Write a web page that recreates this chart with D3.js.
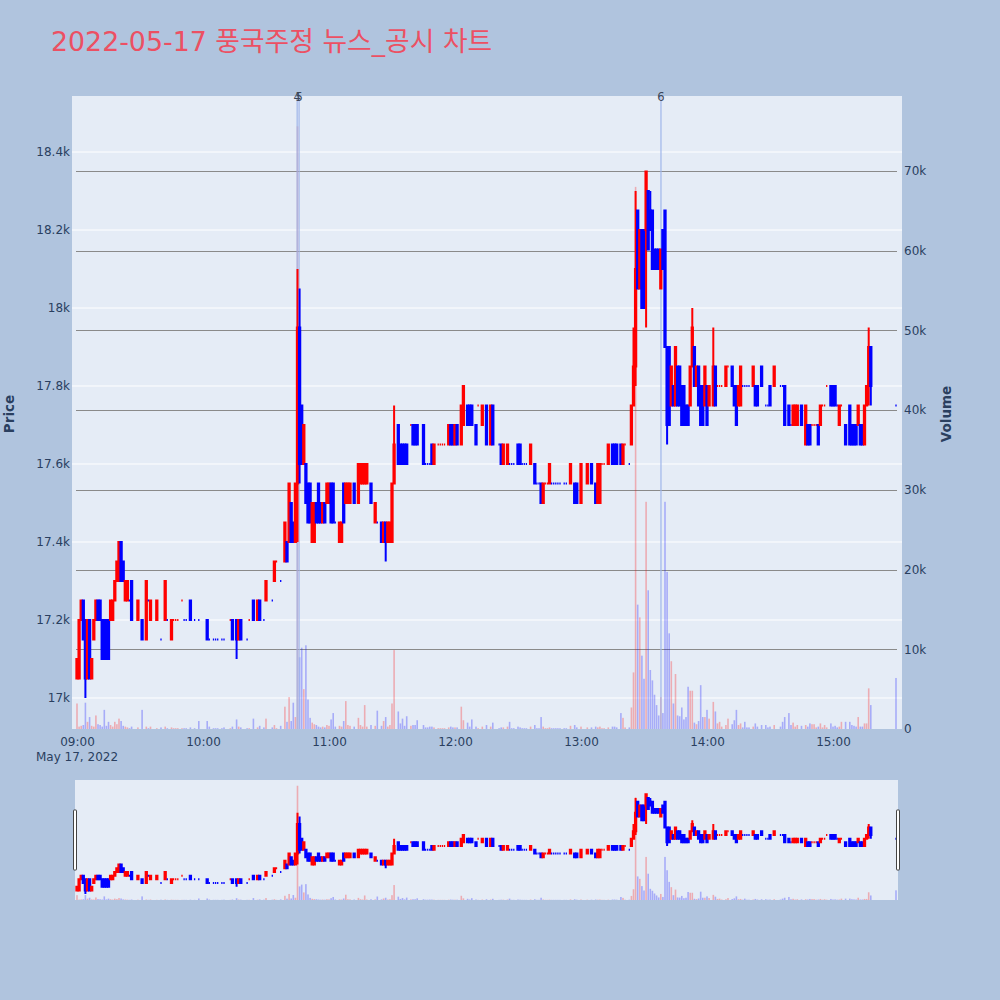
<!DOCTYPE html>
<html><head><meta charset="utf-8">
<script src="https://cdn.jsdelivr.net/npm/d3@7"></script>
<style>
body{margin:0;background:#b0c4de;}
svg{display:block;font-family:"DejaVu Sans","Noto Sans CJK KR",sans-serif;}
</style>
</head><body>
<svg id="c" width="1000" height="1000"></svg>
<script>
// ---------------- DATA (minutes after 09:00) ----------------
const minutes = [
0,1,2,3,4,5,6,7,8,9,10,11,12,13,14,15,16,17,18,19,20,21,22,23,24,25,26,
29,31,33,34,35,38,40,42,43,45,46,47,48,50,51,52,54,56,58,62,63,65,66,67,69,70,73,74,76,77,78,81,82,84,86,87,89,90,93,94,95,97,
99,100,101,102,103,104,105,106,107,108,109,110,111,112,113,114,115,116,117,118,119,120,121,122,123,125,126,127,128,129,130,132,134,135,136,137,138,140,142,143,145,146,147,148,149,150,
151,153,154,155,156,157,159,160,161,162,165,166,167,168,169,170,172,173,174,175,177,178,179,180,181,183,184,186,187,188,190,191,193,195,197,198,201,202,203,205,
206,207,208,210,211,212,213,214,216,218,219,220,221,222,223,224,225,226,227,228,229,230,232,233,235,237,238,240,243,245,247,248,249,250,251,253,255,256,257,259,260,261,263,
264,265,266,267,268,269,270,271,272,273,274,275,276,277,278,279,280,281,282,283,284,285,286,287,288,289,290,291,292,293,294,295,296,297,298,299,300,301,303,304,
305,306,307,309,310,312,313,314,315,316,317,318,319,320,322,323,324,326,328,329,330,332,335,336,337,339,340,341,342,343,345,347,348,349,350,351,352,353,354,355,356,357,359,360,361,362,363,364,366,368,369,370,371,372,373,374,375,376,377,378,390
];
const opens = [
17050,17050,17200,17250,17200,17050,17200,17050,17150,17200,17250,17250,17200,17200,17200,17200,17200,17200,17250,17300,17300,17400,17350,17250,17250,17250,17300,
17200,17200,17150,17250,17200,17200,17150,17200,17200,17150,17200,17200,17200,17250,17200,17200,17250,17200,17200,17200,17150,17150,17150,17150,17150,17150,17200,17200,17200,17150,17200,17150,17200,17250,17200,17250,17200,17250,17250,17300,17350,17300,
17350,17400,17400,17500,17450,17400,17550,17950,17750,17600,17600,17550,17550,17400,17400,17500,17550,17500,17450,17500,17500,17500,17550,17550,17450,17400,17400,17550,17500,17500,17500,17550,17500,17550,17550,17550,17550,17550,17450,17450,17450,17400,17450,17400,17400,17400,
17550,17700,17650,17650,17650,17650,17700,17700,17700,17700,17700,17600,17600,17600,17650,17600,17650,17650,17650,17650,17650,17700,17700,17650,17700,17650,17700,17750,17750,17750,17700,17750,17700,17750,17650,17750,17650,17650,17600,17600,
17600,17600,17600,17650,17650,17600,17600,17600,17600,17600,17550,17550,17550,17500,17550,17550,17550,17550,17550,17550,17550,17550,17550,17550,17550,17550,17550,17500,17550,17600,17550,17500,17500,17600,17600,17600,17650,17650,17650,17650,17600,17650,17600,
17650,17750,17850,18250,18050,18200,18200,18200,18300,18250,18250,18150,18150,18150,18050,18200,18250,17900,17900,17750,17800,17750,17850,17850,17800,17800,17750,17750,17750,17850,17900,17800,17850,17800,17800,17750,17800,17750,17750,17850,
17800,17800,17800,17800,17850,17850,17800,17800,17750,17750,17800,17800,17800,17800,17800,17800,17800,17850,17750,17750,17800,17800,17800,17800,17800,17750,17700,17700,17700,17700,17750,17650,17700,17700,17700,17700,17700,17700,17700,17750,17750,17800,17800,17800,17800,17750,17700,17750,17700,17750,17700,17700,17700,17700,17700,17700,17650,17750,17800,17900,17750
];
const highs = [
17100,17200,17250,17250,17200,17200,17200,17100,17200,17250,17250,17250,17200,17200,17200,17200,17250,17250,17300,17350,17400,17400,17350,17300,17300,17250,17300,
17250,17200,17300,17250,17250,17250,17150,17300,17200,17200,17200,17200,17200,17250,17200,17200,17250,17200,17200,17200,17150,17150,17150,17150,17150,17150,17200,17200,17200,17200,17200,17150,17200,17250,17250,17250,17200,17300,17250,17350,17350,17300,
17450,17400,17550,17500,17450,17550,18100,18050,17750,17700,17600,17550,17550,17500,17500,17500,17550,17500,17500,17500,17550,17550,17550,17550,17450,17450,17450,17550,17550,17550,17550,17550,17600,17600,17600,17600,17600,17550,17500,17450,17450,17450,17450,17450,17450,17550,
17750,17700,17650,17650,17650,17650,17700,17700,17700,17700,17700,17600,17600,17600,17650,17650,17650,17650,17650,17650,17700,17700,17700,17700,17700,17750,17800,17750,17750,17750,17700,17750,17750,17750,17750,17750,17650,17650,17650,17650,
17600,17600,17600,17650,17650,17600,17600,17600,17650,17600,17550,17550,17550,17550,17550,17550,17600,17550,17550,17550,17550,17550,17550,17550,17600,17550,17550,17600,17600,17600,17550,17600,17600,17600,17600,17650,17650,17650,17650,17650,17650,17650,17600,
17750,17950,18300,18250,18200,18200,18200,18350,18300,18300,18250,18150,18150,18150,18150,18200,18250,17900,17900,17850,17800,17900,17850,17850,17800,17800,17750,17750,17850,18000,17900,17850,17850,17800,17800,17850,17800,17800,17950,17850,
17800,17800,17800,17850,17850,17850,17800,17800,17800,17850,17800,17800,17800,17800,17850,17800,17800,17850,17750,17750,17800,17850,17800,17800,17800,17750,17700,17750,17750,17750,17750,17750,17700,17700,17700,17700,17700,17700,17750,17750,17750,17800,17800,17800,17800,17750,17750,17750,17700,17750,17700,17700,17700,17750,17700,17700,17750,17800,17950,17900,17750
];
const lows = [
17050,17050,17200,17150,17000,17050,17050,17050,17150,17200,17200,17200,17100,17100,17100,17100,17200,17200,17250,17300,17300,17300,17300,17250,17250,17250,17200,
17200,17150,17150,17250,17200,17200,17150,17200,17200,17150,17200,17200,17200,17250,17200,17200,17200,17200,17200,17150,17150,17150,17150,17150,17150,17150,17200,17150,17100,17150,17150,17150,17200,17200,17200,17200,17200,17250,17250,17300,17350,17300,
17350,17350,17400,17400,17400,17400,17400,17550,17600,17600,17500,17450,17450,17400,17400,17450,17450,17450,17450,17450,17500,17500,17450,17450,17450,17400,17400,17450,17500,17500,17500,17500,17500,17550,17550,17550,17550,17500,17450,17450,17400,17400,17350,17400,17400,17400,
17550,17600,17600,17600,17600,17600,17700,17650,17650,17650,17600,17600,17600,17600,17600,17600,17650,17650,17650,17650,17650,17650,17650,17650,17650,17650,17700,17700,17700,17700,17650,17750,17700,17650,17650,17650,17650,17600,17600,17600,
17600,17600,17600,17600,17600,17600,17600,17600,17600,17550,17550,17550,17500,17500,17550,17550,17550,17550,17550,17550,17550,17550,17550,17550,17550,17500,17500,17500,17550,17550,17500,17500,17500,17600,17600,17600,17600,17600,17600,17600,17600,17650,17600,
17650,17750,17800,18050,18050,18000,18000,17950,18150,18200,18100,18100,18100,18100,18050,18100,17900,17650,17700,17750,17750,17750,17750,17750,17700,17700,17700,17700,17750,17850,17800,17800,17750,17700,17700,17750,17700,17750,17750,17750,
17800,17800,17800,17800,17850,17800,17750,17700,17750,17750,17800,17800,17800,17800,17800,17750,17750,17800,17750,17750,17750,17800,17800,17800,17700,17700,17700,17700,17700,17700,17700,17650,17650,17650,17700,17700,17700,17650,17700,17750,17750,17800,17750,17750,17750,17750,17700,17750,17650,17650,17650,17650,17650,17700,17650,17650,17650,17750,17750,17750,17750
];
const closes = [
17100,17200,17250,17150,17050,17200,17050,17100,17200,17250,17200,17200,17100,17100,17100,17100,17250,17250,17300,17350,17400,17300,17300,17300,17300,17250,17200,
17250,17150,17300,17250,17250,17250,17150,17300,17200,17200,17200,17200,17200,17250,17200,17200,17200,17200,17200,17150,17150,17150,17150,17150,17150,17150,17200,17150,17150,17200,17150,17150,17200,17200,17250,17200,17200,17300,17250,17350,17350,17300,
17450,17350,17550,17400,17400,17550,17950,17600,17600,17700,17500,17450,17450,17500,17500,17450,17450,17450,17500,17450,17550,17550,17450,17450,17450,17450,17450,17450,17550,17550,17550,17500,17600,17600,17600,17600,17600,17500,17500,17450,17400,17450,17400,17450,17450,17550,
17650,17600,17600,17600,17600,17600,17700,17650,17650,17650,17600,17600,17600,17600,17600,17650,17650,17650,17650,17650,17700,17650,17650,17700,17650,17750,17800,17700,17700,17700,17650,17750,17750,17650,17750,17650,17650,17600,17650,17650,
17600,17600,17600,17600,17600,17600,17600,17600,17650,17550,17550,17550,17500,17550,17550,17550,17600,17550,17550,17550,17550,17550,17550,17550,17600,17500,17500,17600,17600,17550,17500,17600,17600,17600,17600,17650,17600,17600,17600,17600,17650,17650,17600,
17750,17850,18100,18050,18200,18000,18000,18350,18150,18200,18100,18100,18100,18100,18150,18100,17900,17700,17700,17850,17750,17900,17750,17750,17700,17700,17700,17700,17850,17950,17800,17850,17750,17700,17700,17850,17700,17800,17850,17750,
17800,17800,17800,17850,17850,17800,17750,17700,17800,17850,17800,17800,17800,17800,17850,17750,17750,17800,17750,17750,17750,17850,17800,17800,17700,17700,17700,17750,17750,17750,17700,17750,17650,17650,17700,17700,17700,17650,17750,17750,17750,17800,17750,17750,17750,17750,17750,17750,17650,17650,17650,17650,17650,17750,17650,17650,17750,17800,17900,17800,17750
];
const volumes = [
3200,300,400,500,3300,900,1500,400,300,1700,600,500,300,2400,400,900,500,300,900,600,1300,1000,400,300,200,100,300,
200,2400,300,100,300,100,200,300,100,200,100,100,100,100,100,100,200,100,1000,1000,300,100,100,100,100,200,100,300,1200,300,200,100,100,1300,200,400,200,1300,200,500,100,400,
2800,900,4000,1000,3300,1500,75600,9000,10200,5000,10500,3700,1400,800,600,500,300,200,300,200,500,400,1200,2000,300,400,300,1000,3500,500,400,300,1400,500,300,3000,300,500,400,2300,400,1000,1500,300,500,3200,
9900,2200,700,1300,400,1600,400,500,500,1100,500,200,200,300,300,200,100,100,100,100,200,300,200,200,200,2800,1100,800,300,1200,300,100,300,500,300,800,100,200,200,300,
900,100,100,300,200,100,100,100,300,500,100,100,1500,300,100,100,200,100,100,100,100,100,100,100,400,500,200,300,200,200,300,200,300,100,100,200,300,300,200,2000,1400,200,200,
2700,7100,68000,15600,14000,9200,6300,28500,17400,7400,6100,4300,3000,1700,4000,2000,28500,19700,12000,8500,3200,6900,1700,1600,2700,1200,1500,5300,4800,4800,800,600,1000,5500,1500,1500,2400,1300,3400,2200,
700,900,300,500,1300,600,1100,2400,500,700,200,900,200,200,300,700,300,500,500,200,300,500,300,900,1500,2000,500,800,300,500,400,500,300,700,600,600,200,300,700,200,500,200,700,300,400,200,300,900,900,900,500,400,300,1500,300,300,700,700,5100,3000,6400
];
// news / disclosure markers
const eventTimes = ["10:44:50", "10:45:45", "13:38:05"];
const eventLabels = ["4", "5", "6"];
// axis ticks
const priceTicks = [17000, 17200, 17400, 17600, 17800, 18000, 18200, 18400];
const priceTickLabels = ["17k", "17.2k", "17.4k", "17.6k", "17.8k", "18k", "18.2k", "18.4k"];
const volumeTicks = [0, 10000, 20000, 30000, 40000, 50000, 60000, 70000];
const volumeTickLabels = ["0", "10k", "20k", "30k", "40k", "50k", "60k", "70k"];
const timeTicks = ["09:00", "10:00", "11:00", "12:00", "13:00", "14:00", "15:00"];
const titleText = "2022-05-17 풍국주정 뉴스_공시 차트";

// ---------------- BUILD ----------------
const t0 = new Date(2022, 4, 17, 9, 0, 0).getTime();
const toDate = m => new Date(t0 + m * 60000);
const parseHMS = s => { const p = s.split(":").map(Number); return new Date(2022, 4, 17, p[0], p[1], p[2] || 0); };

const data = minutes.map((m, i) => ({ t: toDate(m), o: opens[i], h: highs[i], l: lows[i], c: closes[i], v: volumes[i] }));
let prevC = null, lastUp = true;
data.forEach(d => {
  let up;
  if (d.c > d.o) up = true;
  else if (d.c < d.o) up = false;
  else if (prevC !== null && d.c !== prevC) up = d.c > prevC;
  else up = lastUp;
  d.up = up; lastUp = up; prevC = d.c;
});
const UP = "#ff0000", DOWN = "#0000ff";

const svg = d3.select("#c");
const X0 = 72, X1 = 902, Y0 = 96, Y1 = 729;
const x = d3.scaleTime().domain([toDate(-5 / 2.1), toDate(825 / 2.1)]).range([X0, X1]);
const yP = d3.scaleLinear().domain([16920.5, 18543.6]).range([Y1, Y0]);
const yV = d3.scaleLinear().domain([0, 79400]).range([Y1, Y0]);

const defs = svg.append("defs");
defs.append("clipPath").attr("id", "mainclip").append("rect").attr("x", X0).attr("y", Y0).attr("width", X1 - X0).attr("height", Y1 - Y0);
defs.append("clipPath").attr("id", "sliderclip").append("rect").attr("x", 75).attr("y", 780).attr("width", 823).attr("height", 120);

// title
svg.append("text").attr("x", 51).attr("y", 51).attr("font-size", 26.8).attr("fill", "#ec5063").text(titleText);

// plot background
svg.append("rect").attr("x", X0).attr("y", Y0).attr("width", X1 - X0).attr("height", Y1 - Y0).attr("fill", "#e5ecf6");

// grids
svg.append("g").selectAll("line").data(priceTicks).join("line")
  .attr("x1", X0).attr("x2", X1).attr("y1", d => yP(d)).attr("y2", d => yP(d))
  .attr("stroke", "#ffffff").attr("stroke-width", 1);
svg.append("g").selectAll("line").data(volumeTicks.slice(1)).join("line")
  .attr("x1", 76).attr("x2", 897).attr("y1", d => Math.round(yV(d)) + 0.5).attr("y2", d => Math.round(yV(d)) + 0.5)
  .attr("stroke", "#8a8a8a").attr("stroke-width", 1);

function drawVolume(g, xs, ys, base) {
  g.selectAll("rect.vol").data(data).join("rect").attr("class", "vol")
    .attr("x", d => xs(d.t) - 0.8).attr("width", 1.6)
    .attr("y", d => ys(d.v)).attr("height", d => base - ys(d.v))
    .attr("fill", d => d.up ? UP : DOWN).attr("fill-opacity", 0.27);
}
function candlePath(d, xs, ys) {
  const cx = xs(d.t), w = 0.65;
  const yo = ys(d.o), yc = ys(d.c), yh = ys(d.h), yl = ys(d.l);
  const top = Math.min(yo, yc), bot = Math.max(yo, yc);
  return `M${cx - w},${top}H${cx + w}V${bot}H${cx - w}Z M${cx},${yh}V${top} M${cx},${bot}V${yl}`;
}
function drawCandles(g, xs, ys) {
  g.selectAll("path.cdl").data(data).join("path").attr("class", "cdl")
    .attr("d", d => candlePath(d, xs, ys))
    .attr("fill", d => d.up ? UP : DOWN).attr("stroke", d => d.up ? UP : DOWN)
    .attr("stroke-width", 2);
}

const main = svg.append("g").attr("clip-path", "url(#mainclip)");
drawVolume(main.append("g"), x, yV, Y1);
// event lines
const evG = main.append("g");
eventTimes.forEach((s, i) => {
  const ex = x(parseHMS(s));
  evG.append("line").attr("x1", ex).attr("x2", ex).attr("y1", Y0).attr("y2", Y1)
    .attr("stroke", "#9fb6ea").attr("stroke-width", 1.2);
});
drawCandles(main.append("g"), x, yP);

// event labels
eventTimes.forEach((s, i) => {
  svg.append("text").attr("x", x(parseHMS(s))).attr("y", 101).attr("text-anchor", "middle")
    .attr("font-size", 11.5).attr("fill", "#3a4658").text(eventLabels[i]);
});

// axes
const axisColor = "#2a3f5f";
const gl = svg.append("g").attr("transform", `translate(${X0},0)`)
  .call(d3.axisLeft(yP).tickValues(priceTicks).tickFormat((d, i) => priceTickLabels[i]).tickSize(0).tickPadding(2));
const gr = svg.append("g").attr("transform", `translate(${X1},0)`)
  .call(d3.axisRight(yV).tickValues(volumeTicks).tickFormat((d, i) => volumeTickLabels[i]).tickSize(0).tickPadding(2));
const gb = svg.append("g").attr("transform", `translate(0,${Y1})`)
  .call(d3.axisBottom(x).tickValues(timeTicks.map(s => parseHMS(s))).tickFormat((d, i) => timeTicks[i]).tickSize(0).tickPadding(8));
[gl, gr, gb].forEach(g => {
  g.select(".domain").remove();
  g.selectAll("text").attr("fill", axisColor).attr("font-size", 12).attr("font-family", "DejaVu Sans");
});
svg.append("text").attr("x", x(parseHMS("09:00"))).attr("y", 761).attr("text-anchor", "middle")
  .attr("font-size", 12).attr("fill", axisColor).text("May 17, 2022");

// axis titles
svg.append("text").attr("transform", "translate(14,414) rotate(-90)").attr("text-anchor", "middle")
  .attr("font-size", 13.5).attr("font-weight", "bold").attr("fill", axisColor).text("Price");
svg.append("text").attr("transform", "translate(951,414) rotate(-90)").attr("text-anchor", "middle")
  .attr("font-size", 13.5).attr("font-weight", "bold").attr("fill", axisColor).text("Volume");

// range slider
const ySP = d3.scaleLinear().domain(yP.domain()).range([900, 780]);
const ySV = d3.scaleLinear().domain(yV.domain()).range([900, 780]);
svg.append("rect").attr("x", 75).attr("y", 780).attr("width", 823).attr("height", 120).attr("fill", "#e5ecf6");
const slider = svg.append("g").attr("clip-path", "url(#sliderclip)");
drawVolume(slider.append("g"), x, ySV, 900);
drawCandles(slider.append("g"), x, ySP);
[73.5, 896.5].forEach(hx => {
  svg.append("rect").attr("x", hx).attr("y", 810).attr("width", 3).attr("height", 60)
    .attr("fill", "#ffffff").attr("stroke", "#444").attr("stroke-width", 1).attr("rx", 0.5);
});
</script>
</body></html>
